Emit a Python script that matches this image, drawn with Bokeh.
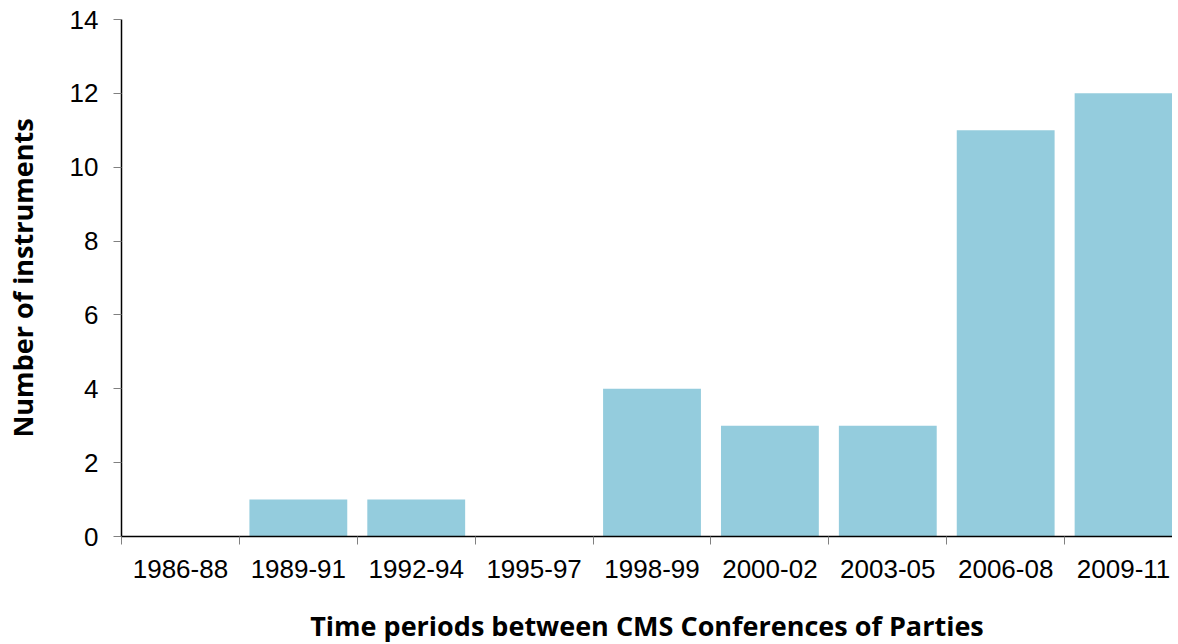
import numpy as np
from bokeh.plotting import figure
from bokeh.models import ColumnDataSource, FixedTicker, Range1d
from bokeh.embed import file_html
from bokeh.resources import INLINE

categories = ["1986-88", "1989-91", "1992-94", "1995-97", "1998-99",
              "2000-02", "2003-05", "2006-08", "2009-11"]
values = [0, 1, 1, 0, 4, 3, 3, 11, 12]
y_ticks = [0, 2, 4, 6, 8, 10, 12, 14]

n = len(categories)
centers = [i + 0.5 for i in range(n)]
bounds = list(range(n + 1))

src = ColumnDataSource(dict(x=centers, top=values, cat=categories))

# the reference is cropped on the right just after the last bar
p = figure(frame_width=1051, frame_height=517,
           x_range=Range1d(0, n - 0.085), y_range=Range1d(0, 14),
           output_backend="svg", toolbar_location=None,
           min_border_left=118, min_border_top=19, min_border_right=0,
           min_border_bottom=0)
p.outline_line_color = None
p.xgrid.visible = False
p.ygrid.visible = False

p.vbar(x="x", top="top", width=0.83, bottom=0, source=src,
       fill_color="#94CCDD", line_color=None)

# x axis
xa = p.xaxis[0]
xa.ticker = FixedTicker(ticks=centers, minor_ticks=bounds)
xa.major_label_overrides = {c: lab for c, lab in zip(centers, categories)}
xa.major_tick_line_color = None
xa.minor_tick_line_color = "#808080"
xa.minor_tick_out = 8
xa.minor_tick_in = 0
xa.axis_line_color = "black"
xa.axis_line_width = 1.5
xa.major_label_text_font = "Liberation Sans"
xa.major_label_text_font_size = "26px"
xa.major_label_text_color = "black"
xa.major_label_standoff = 15
xa.axis_label = "Time periods between CMS Conferences of Parties"
xa.axis_label_text_font = "Open Sans"
xa.axis_label_text_font_style = "bold"
xa.axis_label_text_font_size = "27px"
xa.axis_label_text_color = "black"
xa.axis_label_standoff = 26

# y axis
ya = p.yaxis[0]
ya.ticker = FixedTicker(ticks=y_ticks, minor_ticks=[])
ya.major_tick_line_color = "#808080"
ya.major_tick_out = 8
ya.major_tick_in = 0
ya.axis_line_color = "black"
ya.axis_line_width = 1.5
ya.major_label_text_font = "Liberation Sans"
ya.major_label_text_font_size = "26px"
ya.major_label_text_color = "black"
ya.major_label_standoff = 15
ya.axis_label = "Number of instruments"
ya.axis_label_text_font = "Open Sans"
ya.axis_label_text_font_style = "bold"
ya.axis_label_text_font_size = "27px"
ya.axis_label_text_color = "black"
ya.axis_label_standoff = 26

open("out.html", "w").write(file_html(p, INLINE))
